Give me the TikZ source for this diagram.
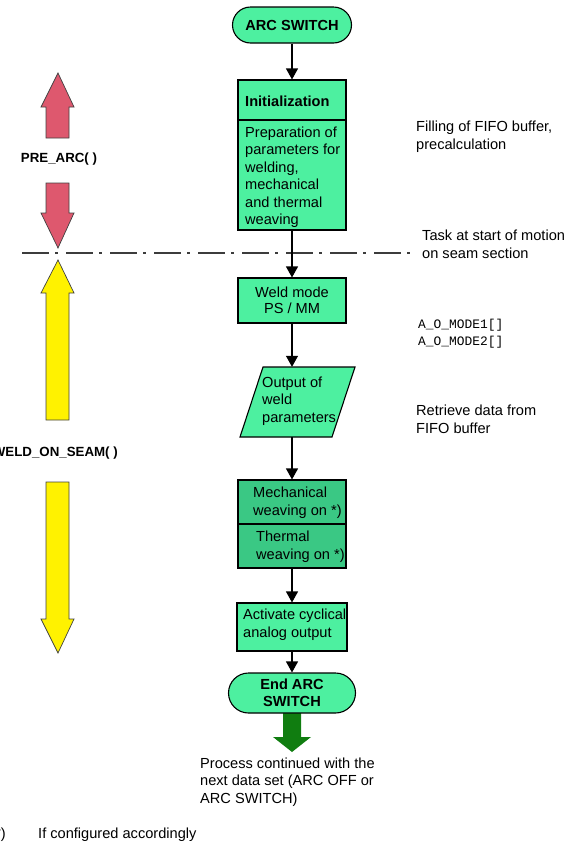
\documentclass[tikz,border=0pt]{standalone}
\usepackage{fontspec}
\setmainfont{Liberation Sans}
\newfontfamily\monof{Liberation Mono}
\usetikzlibrary{arrows.meta,shapes.misc}
\definecolor{lgreen}{RGB}{77,240,160}
\definecolor{dgreen}{RGB}{58,200,132}
\definecolor{pinkred}{RGB}{222,88,110}
\definecolor{blockgreen}{RGB}{16,125,16}
\definecolor{dashgray}{RGB}{60,60,60}
\newcommand\bodyf{\fontsize{14.6}{17.6}\selectfont}
\begin{document}
\begin{tikzpicture}[x=1pt,y=-1pt,
 box/.style={draw=black, line width=1.1pt, fill=lgreen, inner sep=0pt, rectangle},
 dbox/.style={box, fill=dgreen},
 term/.style={draw=black, line width=1.1pt, fill=lgreen, rounded rectangle, align=center, inner sep=0pt},
 txt/.style={font=\bodyf, align=left, inner sep=0pt, anchor=west},
 flow/.style={draw=black, line width=1.1pt, -{Triangle[width=12pt,length=11pt]}},
 blockarrow/.style={draw=black!75, line width=0.7pt},
 lbl/.style={font=\fontsize{13.3}{16}\selectfont\bfseries, inner sep=0pt},
]
\useasboundingbox (0,0) rectangle (577,868);

% phase separator
\coordinate (sepL) at (22,253);
\coordinate (sepR) at (412,253);
\draw[dashgray, line width=1.3pt, dash pattern=on 27pt off 6pt on 3pt off 8pt] (sepL) -- (sepR);

% left block arrows
\filldraw[blockarrow, fill=pinkred] (58,73) -- (74,107) -- (69,107) -- (69,138) -- (46,138) -- (46,107) -- (41,107) -- cycle;
\filldraw[blockarrow, fill=pinkred] (46,183) -- (69,183) -- (69,213) -- (74,213) -- (58,248) -- (41,213) -- (46,213) -- cycle;
\filldraw[blockarrow, fill=yellow] (58,260) -- (74,293) -- (69,293) -- (69,420) -- (46,420) -- (46,293) -- (41,293) -- cycle;
\filldraw[blockarrow, fill=yellow] (46,482) -- (69,482) -- (69,619) -- (74,619) -- (58,653) -- (41,619) -- (46,619) -- cycle;
\node[lbl] (prearc) at (59,159) {PRE\_ARC( )};
\node[lbl, anchor=east] (weldseam) at (118,453) {WELD\_ON\_SEAM( )};

% green continuation arrow
\fill[blockgreen] (283,712) -- (301,712) -- (301,737) -- (311,737) -- (292,752) -- (273,737) -- (283,737) -- cycle;

% flow nodes
\node[term, minimum width=119pt, minimum height=36pt, font=\bodyf\bfseries] (start) at (292,25) {ARC SWITCH};

\node[box, minimum width=108pt, minimum height=150pt] (init) at (292,155) {};
\coordinate (div1) at (292,120);
\draw[line width=1.1pt] (init.west |- div1) -- (init.east |- div1);
\node[txt, font=\bodyf\bfseries] (inittitle) at (245,101) {Initialization};
\node[txt, font=\fontsize{14.6}{17.5}\selectfont] (initbody) at (245,177) {Preparation of\\parameters for\\welding,\\mechanical\\and thermal\\weaving};

\node[box, minimum width=108pt, minimum height=45pt, font=\fontsize{14.6}{16.5}\selectfont, align=center] (weld) at (292,300.5) {Weld mode\\PS / MM};

\node[inner sep=0pt, minimum width=0pt, minimum height=70pt] (outp) at (292,402) {};
\filldraw[fill=lgreen, draw=black, line width=1.1pt] (263,367) -- (355,367) -- (332,437) -- (240,437) -- cycle;
\node[txt] (outtext) at (262,401) {Output of\\weld\\parameters};

\node[dbox, minimum width=108pt, minimum height=88pt] (mech) at (292,524) {};
\draw[line width=1.1pt] (mech.west) -- (mech.east);
\node[txt] (mechtext) at (253,503) {Mechanical\\weaving on *)};
\node[txt] (thermtext) at (256,547) {Thermal\\weaving on *)};

\node[box, minimum width=110pt, minimum height=48pt] (act) at (292,627) {};
\node[txt] (acttext) at (243,625) {Activate cyclical\\analog output};

\node[term, minimum width=127pt, minimum height=40pt, font=\fontsize{14.6}{17}\selectfont\bfseries] (end) at (292,693) {End ARC\\SWITCH};

% connectors
\draw[flow] (start.south) -- (init.north);
\draw[flow] (init.south) -- (weld.north);
\draw[flow] (weld.south) -- (outp.north);
\draw[flow] (outp.south) -- (mech.north);
\draw[flow] (mech.south) -- (act.north);
\draw[flow] (act.south) -- (end.north);

% annotations
\node[txt] (fill) at (416,137) {Filling of FIFO buffer,\\precalculation};
\node[txt] (task) at (422,244.5) {Task at start of motion\\on seam section};
\node[txt, font=\monof\fontsize{12.9}{17}\selectfont] (modes) at (418,333.5) {A\_O\_MODE1[]\\A\_O\_MODE2[]};
\node[txt] (retr) at (416,419) {Retrieve data from\\FIFO buffer};
\node[txt] (proc) at (200,782) {Process continued with the\\next data set (ARC OFF or\\ARC SWITCH)};
\node[txt, anchor=east] (star) at (6,835) {*)};
\node[txt] (foot) at (38,835) {If configured accordingly};
\end{tikzpicture}
\end{document}
